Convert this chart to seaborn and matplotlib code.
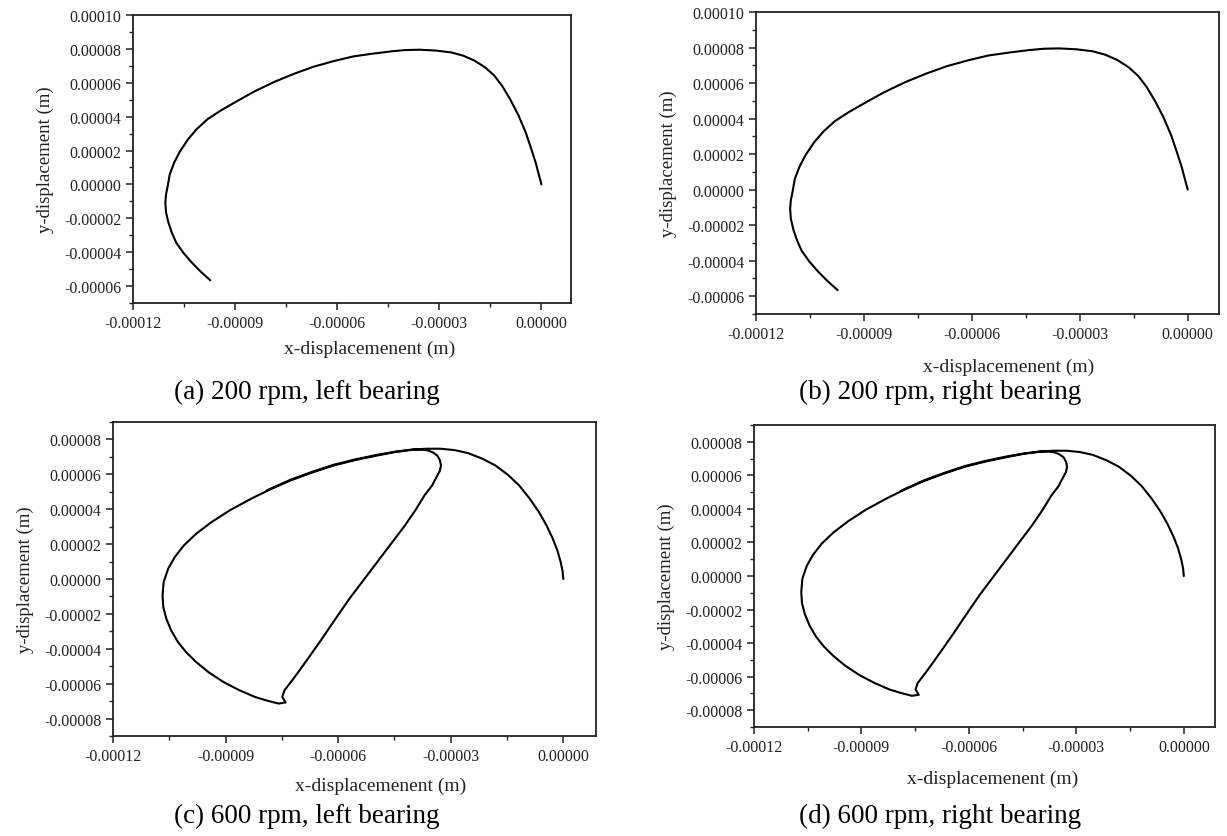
import numpy as np
import pandas as pd
import matplotlib
matplotlib.use("Agg")
import matplotlib.pyplot as plt
import seaborn as sns
from matplotlib.ticker import FormatStrFormatter, AutoMinorLocator, MultipleLocator

# journal bearing orbits, values in units of 1e-5 m
# 200 rpm (left and right bearing give the same orbit)
x_200 = [0.00, -0.08, -0.17, -0.30, -0.46, -0.68, -0.92, -1.15, -1.38, -1.65,
         -1.96, -2.30, -2.65, -3.10, -3.58, -4.00, -4.38, -4.95, -5.54, -6.10,
         -6.69, -7.27, -7.85, -8.43, -9.00, -9.43, -9.81, -10.12, -10.38, -10.62,
         -10.79, -10.92, -10.98, -11.03, -11.05, -11.03, -10.96, -10.86, -10.73,
         -10.52, -10.27, -10.01, -9.73]
y_200 = [0.00, 0.60, 1.29, 2.10, 3.06, 4.10, 5.03, 5.80, 6.41, 6.90,
         7.30, 7.60, 7.79, 7.90, 7.95, 7.93, 7.86, 7.72, 7.55, 7.28,
         6.95, 6.53, 6.05, 5.49, 4.85, 4.35, 3.85, 3.28, 2.67, 1.95,
         1.29, 0.60, -0.09, -0.60, -1.07, -1.65, -2.25, -2.85, -3.44,
         -4.04, -4.62, -5.15, -5.66]

# 600 rpm (left and right bearing give the same orbit)
x_600 = [0.00, -0.02, -0.07, -0.16, -0.28, -0.45, -0.65, -0.90, -1.18, -1.48,
         -1.81, -2.16, -2.54, -2.90, -3.28, -3.65, -4.01, -4.48, -4.96, -5.54,
         -6.12, -6.70, -7.27, -7.80, -8.32, -8.87, -9.37, -9.78, -10.11, -10.35,
         -10.53, -10.65, -10.68, -10.66, -10.58, -10.45, -10.27, -10.05, -9.79,
         -9.45, -9.06, -8.65, -8.22, -7.90, -7.59, -7.40, -7.49, -7.43, -7.25,
         -7.06, -6.75, -6.43, -6.07, -5.70, -5.33, -4.96, -4.59, -4.22, -3.94,
         -3.70, -3.50, -3.38, -3.29, -3.26, -3.29, -3.36, -3.47, -3.60, -3.80,
         -4.01, -4.48, -4.96, -5.54, -6.12, -6.70, -7.27, -7.90]
y_600 = [0.00, 0.45, 0.97, 1.65, 2.31, 3.08, 3.84, 4.62, 5.37, 5.98,
         6.51, 6.90, 7.22, 7.39, 7.47, 7.47, 7.41, 7.28, 7.08, 6.82,
         6.51, 6.10, 5.65, 5.15, 4.60, 3.96, 3.27, 2.60, 1.93, 1.27,
         0.59, -0.17, -0.94, -1.62, -2.27, -2.95, -3.61, -4.20, -4.75,
         -5.35, -5.90, -6.36, -6.76, -6.97, -7.14, -7.08, -6.76, -6.38, -5.88,
         -5.33, -4.40, -3.42, -2.28, -1.13, -0.08, 0.97, 2.02, 3.07, 3.95,
         4.79, 5.35, 5.84, 6.20, 6.51, 6.82, 7.08, 7.25, 7.37, 7.42,
         7.43, 7.30, 7.12, 6.86, 6.55, 6.14, 5.69, 5.08]

captions = ["(a) 200 rpm, left bearing", "(b) 200 rpm, right bearing",
            "(c) 600 rpm, left bearing", "(d) 600 rpm, right bearing"]

sns.set_style("ticks")
plt.rcParams["font.family"] = ["Liberation Serif", "DejaVu Serif"]

orbits = [(x_200, y_200), (x_200, y_200), (x_600, y_600), (x_600, y_600)]

fig = plt.figure(figsize=(12.27, 8.37), dpi=100)

boxes = [[0.1084, 0.6368, 0.3570, 0.3441],
         [0.6161, 0.6237, 0.3774, 0.3608],
         [0.0921, 0.1195, 0.3936, 0.3751],
         [0.6145, 0.1302, 0.3757, 0.3608]]
ylims = [(-0.00007, 0.0001), (-0.00007, 0.0001), (-0.00009, 0.00009), (-0.00009, 0.00009)]
xlab_pos = [(0.541, -0.128), (0.546, -0.146), (0.555, -0.131), (0.518, -0.142)]
cap_pos = [(0.250, 0.531), (0.766, 0.531), (0.250, 0.024), (0.766, 0.024)]

for i, (xs, ys) in enumerate(orbits):
    ax = fig.add_axes(boxes[i])
    df = pd.DataFrame({"x": np.array(xs) * 1e-5, "y": np.array(ys) * 1e-5})
    sns.lineplot(data=df, x="x", y="y", sort=False, estimator=None,
                 color="black", lw=1.5, ax=ax)
    ax.set_xlim(-0.00012, 0.0000087)
    ax.set_ylim(*ylims[i])
    ax.xaxis.set_major_locator(MultipleLocator(0.00003))
    ax.yaxis.set_major_locator(MultipleLocator(0.00002))
    ax.xaxis.set_minor_locator(AutoMinorLocator(2))
    ax.yaxis.set_minor_locator(AutoMinorLocator(2))
    ax.xaxis.set_major_formatter(FormatStrFormatter("%.5f"))
    ax.yaxis.set_major_formatter(FormatStrFormatter("%.5f"))
    ax.tick_params(which="major", direction="out", length=5, width=1.1,
                   labelsize=11.5, colors="#222222")
    ax.tick_params(which="minor", direction="out", length=3, width=1.0,
                   colors="#222222")
    for sp in ax.spines.values():
        sp.set_linewidth(1.3)
        sp.set_color("#222222")
    ax.set_xlabel("x-displacemenent (m)", fontsize=14, color="#222222")
    ax.xaxis.set_label_coords(*xlab_pos[i])
    ax.set_ylabel("y-displacement (m)", fontsize=13.5, color="#222222", labelpad=7)
    fig.text(cap_pos[i][0], cap_pos[i][1], captions[i], fontsize=19.5,
             ha="center", va="center", color="black")

fig.savefig("out.png", dpi=100)
